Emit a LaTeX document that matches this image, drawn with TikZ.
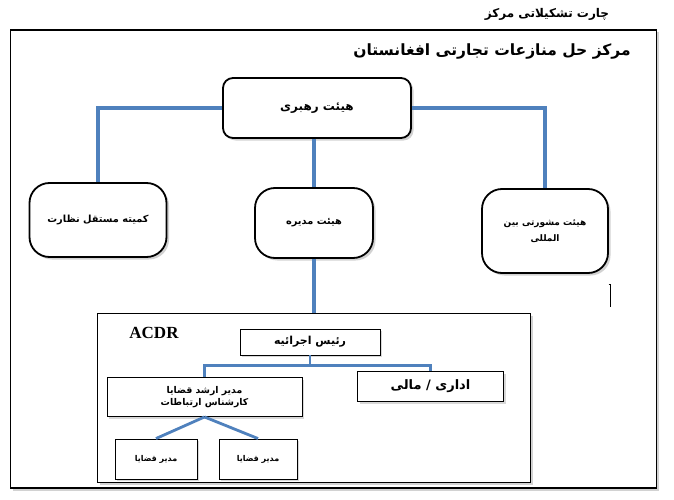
\documentclass[tikz,border=0pt]{standalone}
\usepackage{fontspec}
\usetikzlibrary{shadows}
\TeXXeTstate=1
\newfontfamily\fafont[Script=Arabic]{DejaVu Sans}
\newfontfamily\acdrfont{Liberation Serif}
\newcommand{\fa}[1]{{\fafont\bfseries\beginR #1\endR}}
\newcommand{\fsz}[1]{\fontsize{#1}{#1}\selectfont}
\definecolor{linkblue}{HTML}{4F81BD}
\tikzset{
  frame/.style={draw, line width=1.2pt, fill=white, inner sep=0pt,
    drop shadow={shadow xshift=2.5pt, shadow yshift=-2.5pt, fill=black!35}},
  council/.style={draw, line width=1.8pt, fill=white, align=center,
    font=\fsz{9.8pt}, drop shadow={shadow xshift=2.5pt, shadow yshift=-2.5pt, fill=black!35}},
  unit/.style={draw, line width=0.9pt, fill=white, align=center, inner sep=0pt,
    font=\fsz{9pt}, drop shadow={shadow xshift=2pt, shadow yshift=-2pt, fill=black!30}},
  link/.style={draw=linkblue, line width=3.2pt},
}

\begin{document}
\begin{tikzpicture}[x=1pt, y=-1pt]
\useasboundingbox (0,0) rectangle (674,500);
% outer frame and titles
\node[frame, minimum width=646pt, minimum height=458pt] (page) at (333.5,259) {};
\node[font=\fsz{12pt}] (chart) at (547,14) {\fa{چارت تشکیلاتی مرکز}};
\node[font=\fsz{15.5pt}] (title) at (492,52) {\fa{مرکز حل منازعات تجارتی افغانستان}};
% councils
\node[council, font=\fsz{12pt}, rounded corners=10pt, minimum width=188pt, minimum height=60pt] (lead) at (317,108) {\fa{هیئت رهبری}};
\node[council, rounded corners=20pt, minimum width=137pt, minimum height=74pt] (audit) at (98,220) {\fa{کمیته مستقل نظارت}};
\node[council, rounded corners=20pt, minimum width=118pt, minimum height=70pt] (board) at (314,223) {\fa{هیئت مدیره}};
\node[council, font=\fsz{9pt}, rounded corners=20pt, minimum width=126pt, minimum height=84pt] (advice) at (545,231) {\fa{هیئت مشورتی بین}\\[6pt]\fa{المللی}};
\draw[link] (lead.west) -| (audit.north);
\draw[link] (lead.east) -| (advice.north);
\draw[link] (board.north |- lead.south) -- (board.north);
% ACDR
\node[frame, line width=0.9pt, minimum width=433pt, minimum height=169pt] (acdr) at (313.5,397.5) {};
\draw[link] (board.south) -- (board.south |- acdr.north);
\node[font=\acdrfont\bfseries\fsz{17pt}] (acdrname) at (154,333) {ACDR};
\node[unit, font=\fsz{11pt}, minimum width=140pt, minimum height=26pt] (chief) at (310,342) {\fa{رئیس اجرائیه}};
\node[unit, font=\fsz{9.3pt}, minimum width=195pt, minimum height=39pt] (senior) at (204.5,397) {\fa{مدیر ارشد قضایا}\\[2pt]\fa{کارشناس ارتباطات}};
\node[unit, font=\fsz{13pt}, minimum width=146pt, minimum height=30pt] (admin) at (430.5,386.5) {\fa{اداری / مالی}};
\node[unit, font=\fsz{8pt}, minimum width=82pt, minimum height=40pt] (case1) at (156,459) {\fa{مدیر قضایا}};
\node[unit, font=\fsz{8pt}, minimum width=78pt, minimum height=40pt] (case2) at (258,459) {\fa{مدیر قضایا}};
\draw[link, line width=2.8pt] (chief.south) -- ++(0,10) coordinate (split);
\draw[link, line width=2.8pt] (split) -| (senior.north);
\draw[link, line width=2.8pt] (split) -| (admin.north);
\draw[link, line width=2.8pt] (senior.south) -- (case1.north);
\draw[link, line width=2.8pt] (senior.south) -- (case2.north);
% stray mark
\draw[line width=1pt] (608.5,284) -- (610,284) -- (610,307);
\end{tikzpicture}
\end{document}
